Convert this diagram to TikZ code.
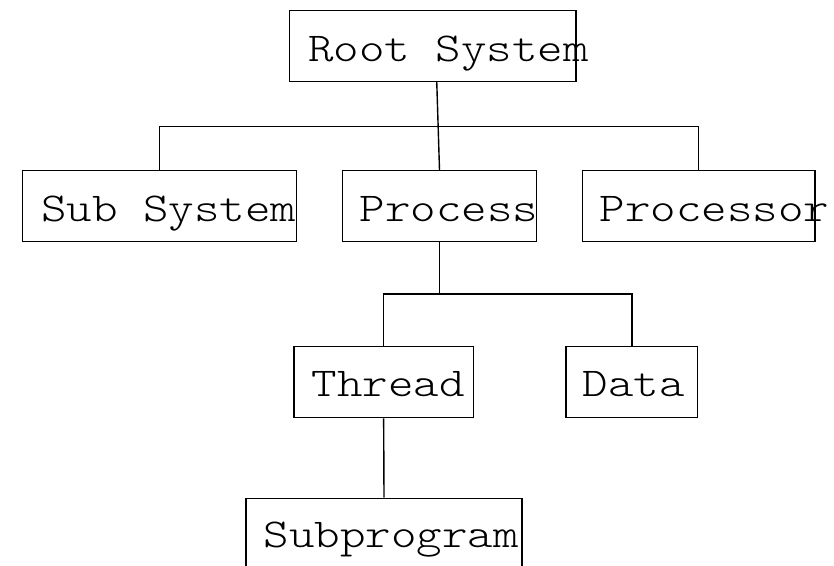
\documentclass[tikz,border=0pt]{standalone}
\usepackage{fontspec}
\newfontfamily\boxfont{Latin Modern Mono Light}[FakeStretch=1.185]
\usetikzlibrary{calc}
\tikzset{
  unitbox/.style={draw, line width=1.4pt, minimum height=71pt, inner sep=0pt},
  boxtext/.style={anchor=base west, inner sep=0pt, font=\boxfont\fontsize{41}{50}\selectfont},
  link/.style={line width=1.4pt}
}
\begin{document}
\begin{tikzpicture}[x=1pt,y=1pt]
  \useasboundingbox (0,0) rectangle (834,565);

  % boxes
  \node[unitbox, minimum width=286.5pt] (root)      at (432.75,519.15) {};
  \node[unitbox, minimum width=274pt]   (subsys)    at (159.5,358.8)   {};
  \node[unitbox, minimum width=194.4pt] (proc)      at (439.5,358.8)   {};
  \node[unitbox, minimum width=232.7pt] (processor) at (698.65,358.8)  {};
  \node[unitbox, minimum width=179.3pt] (thread)    at (383.65,182.9)  {};
  \node[unitbox, minimum width=131.7pt] (data)      at (631.85,182.9)  {};
  \node[unitbox, minimum width=276pt]   (subprog)   at (384,31.3)      {};

  % labels, set from the left edge of each box and allowed to run past it
  \node[boxtext] (rootlbl)      at ($(root.north west)+(19,-52)$)      {Root System};
  \node[boxtext] (subsyslbl)    at ($(subsys.north west)+(19,-52)$)    {Sub System};
  \node[boxtext] (proclbl)      at ($(proc.north west)+(18,-52)$)      {Process};
  \node[boxtext] (processorlbl) at ($(processor.north west)+(18,-52)$) {Processor};
  \node[boxtext] (threadlbl)    at ($(thread.north west)+(18,-51)$)    {Thread};
  \node[boxtext] (datalbl)      at ($(data.north west)+(17,-51)$)      {Data};
  \node[boxtext] (subproglbl)   at ($(subprog.north west)+(18,-50)$)   {Subprogram};

  % tree connectors
  \coordinate (bus1) at (439,438.3);
  \coordinate (bus2) at (439.5,271);
  \draw[link] ([xshift=4pt]root.south) -- (proc.north);
  \draw[link] (subsys.north) |- (bus1) -| (processor.north);
  \draw[link] (proc.south) -- (bus2);
  \draw[link] (thread.north) |- (bus2) -| (data.north);
  \draw[link] (thread.south) -- (subprog.north);
\end{tikzpicture}
\end{document}
